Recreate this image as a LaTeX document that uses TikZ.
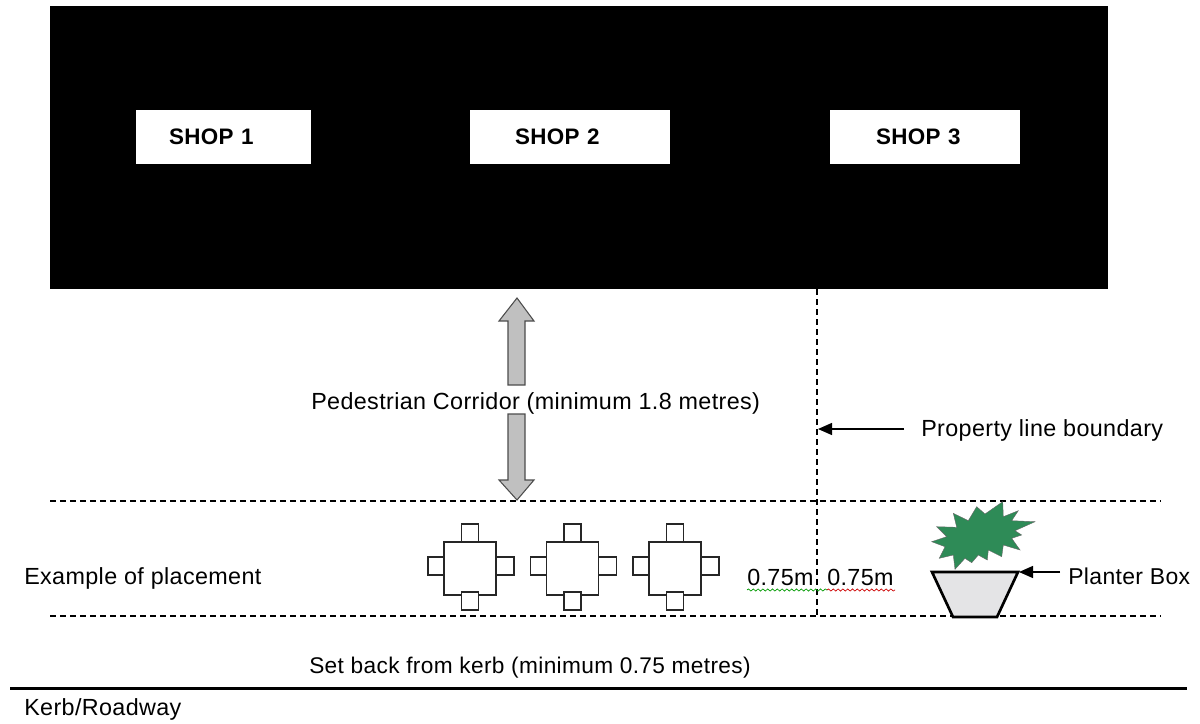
\documentclass[tikz,border=0pt]{standalone}
\usepackage{fontspec}
\setmainfont[LetterSpace=1.6]{Liberation Sans}
\usetikzlibrary{arrows.meta,decorations.pathmorphing}
\definecolor{plantgreen}{RGB}{46,139,87}
\definecolor{arrowgrey}{RGB}{192,192,192}
\definecolor{potgrey}{RGB}{228,228,230}
\tikzset{
  shoplabel/.style={fill=white,minimum height=40.5pt,inner ysep=0pt,align=left,font=\fontsize{16.8}{19}\selectfont\bfseries},
  plaintext/.style={inner sep=0pt,anchor=west,yshift=-1.3pt,font=\fontsize{17.5}{20}\selectfont},
  boundary/.style={line width=0.8pt,dash pattern=on 4.5pt off 3pt},
  seat/.style={draw=black!85,fill=white,line width=0.8pt},
  blockarrow/.style={draw=black!70,fill=arrowgrey,line width=0.8pt,line join=miter},
  squiggle/.style={decorate,decoration={snake,amplitude=0.8pt,segment length=3.6pt},line width=0.5pt},
  pointer/.style={-{Triangle[length=10.5pt,width=9pt]},line width=1pt},
}
\begin{document}
\begin{tikzpicture}[x=0.75pt,y=-0.75pt,>=stealth]
    \useasboundingbox (0,0) rectangle (1200,724);

    % building
    \fill[black] (50,6) rectangle (1108,289);
    \node[shoplabel,inner xsep=24.75pt,text width=81.75pt] (shopA) at (223.5,137) {SHOP 1};
    \node[shoplabel,inner xsep=33.75pt,text width=82.5pt] (shopB) at (570,137) {SHOP 2};
    \node[shoplabel,inner xsep=34.5pt,text width=73.5pt] (shopC) at (925,137) {SHOP 3};

    \coordinate (propTop) at (817,289);
    \coordinate (propBot) at (817,616);
    \coordinate (propHit) at (818,429);
    \coordinate (propTail) at (904,429);
    \coordinate (potEdge) at (1019,572);
    \coordinate (potTail) at (1060,572);
    \coordinate (walkL) at (50,501);
    \coordinate (walkR) at (1161,501);
    \coordinate (kerbL) at (50,616);
    \coordinate (kerbR) at (1161,616);
    \coordinate (roadL) at (10,688.5);
    \coordinate (roadR) at (1187,688.5);

    \draw[boundary] (walkL) -- (walkR);
    \draw[boundary] (kerbL) -- (kerbR);
    \draw[boundary] (propTop) -- (propBot);
    \draw[line width=2.6pt] (roadL) -- (roadR);

    % corridor arrows
    \draw[blockarrow] (517,298) -- (534,321) -- (525,321) -- (525,385)
        -- (508,385) -- (508,321) -- (499,321) -- cycle;
    \draw[blockarrow] (517,500) -- (534,480) -- (525,480) -- (525,414)
        -- (508,414) -- (508,480) -- (499,480) -- cycle;

    % tables and chairs
    \foreach \tx in {470,572.5,675} {
        \begin{scope}[shift={(\tx,568.5)}]
            \draw[seat] (-8.5,-44.5) rectangle (8.5,-26.5);
            \draw[seat] (-42,-11.5) rectangle (-26,6.5);
            \draw[seat] (26,-11.5) rectangle (44,6.5);
            \draw[seat,fill=none] (-26,-26.5) rectangle (26,26.5);
            \draw[seat] (-8.5,23.5) rectangle (8.5,41.5);
        \end{scope}
    }

    % planter
    \fill[plantgreen,draw=black!60,line width=0.3pt]
        (1002.7,501.7) -- (1003.3,516.7) -- (1018.3,510.7) -- (1011.7,520.7)
        -- (1035,521.7) -- (1015,530.7) -- (1021.7,535) -- (1011.7,538.3)
        -- (1020,550) -- (1003.3,545) -- (1001.7,556.7) -- (988.3,550)
        -- (987.3,560) -- (978.3,555) -- (971.7,562.7) -- (965,558.3)
        -- (955,569.3) -- (953.3,555) -- (939.3,558.3) -- (945,546.7)
        -- (931.7,541.7) -- (946.7,536.7) -- (936.7,526.7) -- (956.7,527.3)
        -- (953.3,513.3) -- (968.3,520.7) -- (976.7,506.7) -- (985,514) -- cycle;
    \draw[fill=potgrey,line width=2pt,line join=miter]
        (932,572) -- (1018,572) -- (997,617) -- (953,617) -- cycle;

    % labels
    \node[plaintext] (corridor) at (311,402) {Pedestrian Corridor (minimum 1.8 metres)};
    \node[plaintext] (proptext) at (921,429) {Property line boundary};
    \node[plaintext] (example) at (24,577) {Example of placement};
    \node[plaintext] (gapA) at (747,576) {0.75m};
    \node[plaintext] (gapB) at (827,576) {0.75m};
    \node[plaintext,font=\fontsize{17.2}{20}\selectfont] (planter) at (1068,575) {Planter Box};
    \node[plaintext,font=\fontsize{17}{20}\selectfont] (setback) at (309,666) {Set back from kerb (minimum 0.75 metres)};
    \node[plaintext] (kerb) at (24,708) {Kerb/Roadway};

    \draw[pointer] (propTail) -- (propHit);
    \draw[pointer] (potTail) -- (potEdge);

    \draw[squiggle,green!60!black] (747,590) -- (827,590);
    \draw[squiggle,red!80!black] (827,590) -- (895,590);
\end{tikzpicture}
\end{document}
